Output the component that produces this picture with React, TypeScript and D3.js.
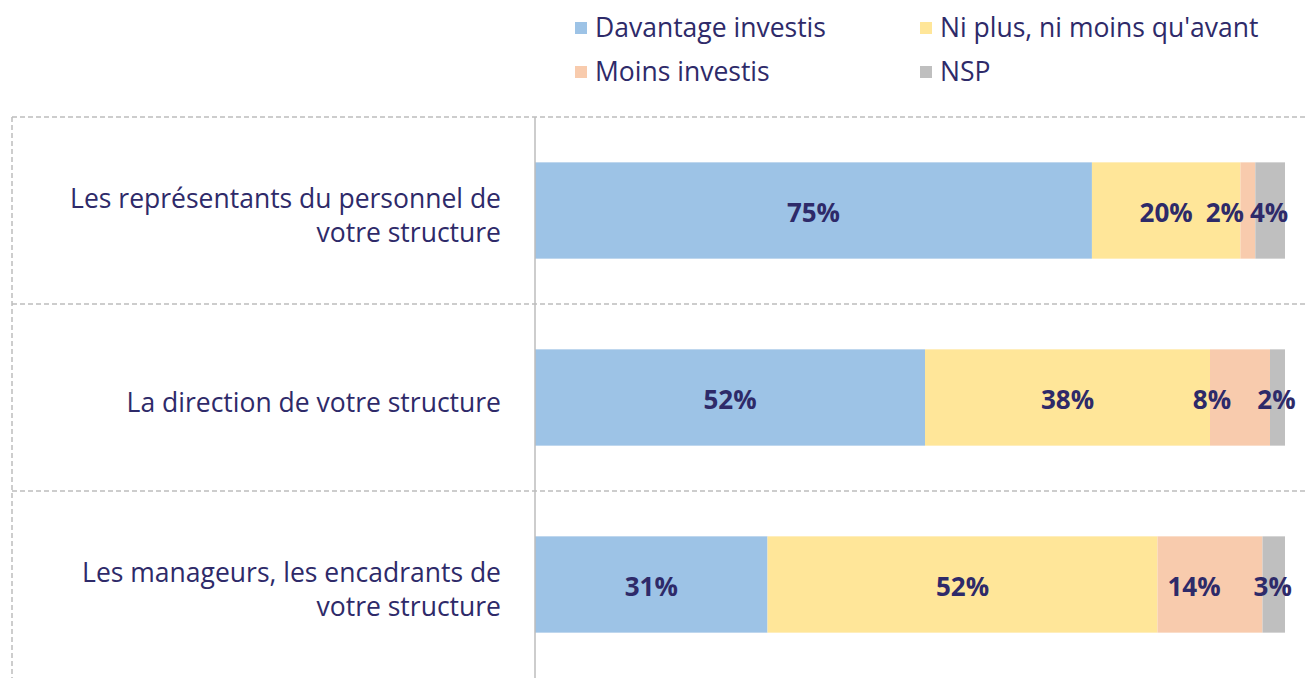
import React from "react";
import * as d3 from "d3";

const categories = [
  ["Les représentants du personnel de", "votre structure"],
  ["La direction de votre structure"],
  ["Les manageurs, les encadrants de", "votre structure"],
];
const seriesNames = ["Davantage investis", "Ni plus, ni moins qu'avant", "Moins investis", "NSP"];
const davantage = [75, 52, 31];
const niPlusNiMoins = [20, 38, 52];
const moins = [2, 8, 14];
const nsp = [4, 2, 3];

const colors = ["#9dc3e6", "#ffe699", "#f8cbad", "#bfbfbf"];
const textColor = "#2e2a69";
const gridColor = "#bdbdbd";
const font = "'Open Sans', sans-serif";

// small manual nudges of the labels in narrow segments (as in the original)
const labelShift = [
  [0, 0, -23, -1],
  [0, 0, -28, -1],
  [0, 0, -16, -1],
];

const width = 1308;
const height = 678;
const margin = { top: 117, left: 535, right: 23 };

export default function App() {
  const rows = categories.map((c, i) => ({
    idx: i,
    [seriesNames[0]]: davantage[i],
    [seriesNames[1]]: niPlusNiMoins[i],
    [seriesNames[2]]: moins[i],
    [seriesNames[3]]: nsp[i],
  }));

  const stack = d3.stack<any>().keys(seriesNames).offset(d3.stackOffsetExpand);
  const layers = stack(rows);

  const x = d3.scaleLinear().domain([0, 1]).range([margin.left, width - margin.right]);
  const y = d3
    .scaleBand<number>()
    .domain(d3.range(categories.length))
    .range([margin.top, margin.top + 187 * categories.length])
    .padding(0);
  const barH = y.bandwidth() * 0.515;

  const legendX = [575, 920];
  const legendY = [28, 72];

  return (
    <svg
      width={width}
      height={height}
      style={{ position: "absolute", left: 0, top: 0, display: "block", background: "#fff" }}
    >
      {/* legend */}
      {seriesNames.map((name, i) => (
        <g key={name} transform={`translate(${legendX[i % 2]}, ${legendY[Math.floor(i / 2)]})`}>
          <rect x={0} y={-6} width={12} height={12} fill={colors[i]} />
          <text x={20} dy="0.35em" fontFamily={font} fontSize={26.5} fill={textColor}>
            {name}
          </text>
        </g>
      ))}

      {/* grid */}
      {d3.range(categories.length).map((i) => (
        <line
          key={"h" + i}
          x1={12}
          x2={width}
          y1={y(i)}
          y2={y(i)}
          stroke={gridColor}
          strokeWidth={1.5}
          strokeDasharray="5,3"
        />
      ))}
      <line x1={12} x2={12} y1={margin.top} y2={height} stroke={gridColor} strokeWidth={1.5} strokeDasharray="5,3" />

      {/* bars */}
      {layers.map((layer, si) =>
        layer.map((d, ri) => (
          <rect
            key={si + "-" + ri}
            x={x(d[0])}
            y={(y(ri) as number) + (y.bandwidth() - barH) / 2}
            width={x(d[1]) - x(d[0])}
            height={barH}
            fill={colors[si]}
          />
        ))
      )}

      {/* axis line */}
      <line x1={margin.left} x2={margin.left} y1={margin.top} y2={height} stroke={gridColor} strokeWidth={1.5} />

      {/* value labels */}
      {layers.map((layer, si) =>
        layer.map((d, ri) => (
          <text
            key={"l" + si + "-" + ri}
            x={(x(d[0]) + x(d[1])) / 2 + labelShift[ri][si]}
            y={(y(ri) as number) + y.bandwidth() / 2 + 2}
            dy="0.35em"
            textAnchor="middle"
            fontFamily={font}
            fontWeight="bold"
            fontSize={26}
            fill={textColor}
          >
            {rows[ri][seriesNames[si]]}%
          </text>
        ))
      )}

      {/* category labels */}
      {categories.map((lines, i) => (
        <text
          key={"c" + i}
          x={501}
          y={(y(i) as number) + y.bandwidth() / 2 + 5 - ((lines.length - 1) * 34) / 2}
          textAnchor="end"
          fontFamily={font}
          fontSize={26.5}
          fill={textColor}
        >
          {lines.map((t, k) => (
            <tspan key={k} x={501} dy={k === 0 ? "0.35em" : 34}>
              {t}
            </tspan>
          ))}
        </text>
      ))}
    </svg>
  );
}
